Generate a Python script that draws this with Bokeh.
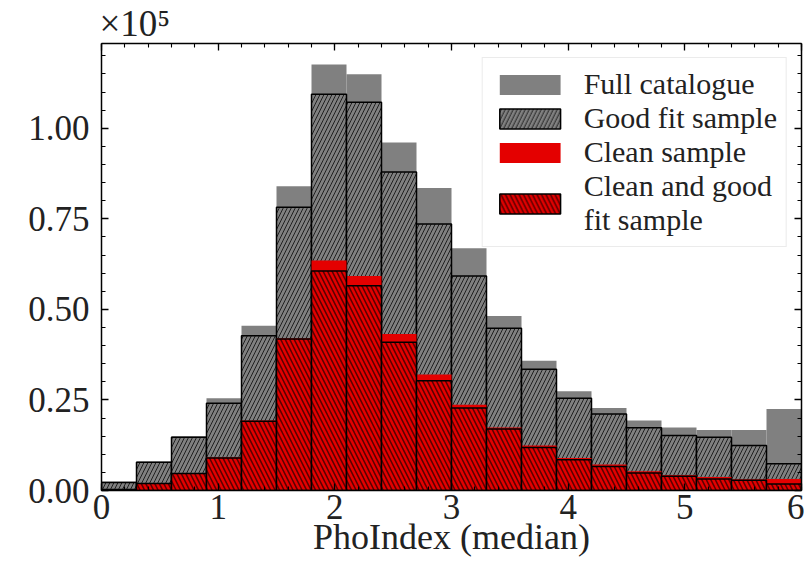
from bokeh.plotting import figure
from bokeh.models import (ColumnDataSource, LinearAxis, Range1d, Legend, LegendItem,
                          Title, CustomJSTickFormatter, FixedTicker)
from bokeh.embed import file_html
from bokeh.resources import INLINE

# ---- data ----
bin_left = [0.0, 0.3, 0.6, 0.9, 1.2, 1.5, 1.8, 2.1, 2.4, 2.7,
            3.0, 3.3, 3.6, 3.9, 4.2, 4.5, 4.8, 5.1, 5.4, 5.7]
bin_right = [0.3, 0.6, 0.9, 1.2, 1.5, 1.8, 2.1, 2.4, 2.7, 3.0,
             3.3, 3.6, 3.9, 4.2, 4.5, 4.8, 5.1, 5.4, 5.7, 6.0]
full_catalogue = [2500, 8000, 15000, 25500, 45500, 84000, 117600, 114900, 96100, 83500,
                  66900, 48200, 35800, 27400, 22800, 19300, 17400, 16700, 16700, 22500]
good_fit = [2200, 7800, 14700, 24100, 42700, 78200, 109400, 107200, 87900, 73600,
            59200, 44800, 33500, 25500, 21100, 17300, 15200, 14700, 12400, 7400]
clean = [400, 2000, 4800, 9200, 19300, 42000, 63500, 59200, 43200, 32000,
         23700, 17400, 12400, 9000, 7200, 5300, 4300, 3700, 3100, 3200]
clean_good = [300, 1900, 4700, 9000, 19100, 41800, 60600, 56500, 40900, 30300,
              22800, 17000, 11900, 8500, 6600, 4800, 3900, 3200, 2800, 1800]
labels = ["Full catalogue", "Good fit sample", "Clean sample", "Clean and good\nfit sample"]
x_ticks = [0, 1, 2, 3, 4, 5, 6]
y_ticks = [0, 25000, 50000, 75000, 100000]
multiplier = "×10⁵"

FONT = "Times"
GRAY = "#808080"
RED = "#e40000"

src = ColumnDataSource(dict(left=bin_left, right=bin_right, full=full_catalogue,
                            good=good_fit, clean=clean, cg=clean_good))

p = figure(width=804, height=571, output_backend="svg", toolbar_location=None,
           x_range=Range1d(0, 6), y_range=Range1d(0, 123400),
           min_border_left=101, min_border_right=3, min_border_top=42, min_border_bottom=81)
p.xaxis.visible = False
p.yaxis.visible = False
p.grid.visible = False
p.outline_line_color = None
p.background_fill_color = "white"

r_full = p.quad(left="left", right="right", bottom=0, top="full", source=src,
                fill_color=GRAY, line_color=None)
r_good = p.quad(left="left", right="right", bottom=0, top="good", source=src,
                fill_color=GRAY, line_color="black", line_width=1.5,
                hatch_pattern="right_diagonal_line", hatch_color="black",
                hatch_scale=8, hatch_weight=1, hatch_alpha=0.75)
r_clean = p.quad(left="left", right="right", bottom=0, top="clean", source=src,
                 fill_color=RED, line_color=None)
r_cg = p.quad(left="left", right="right", bottom=0, top="cg", source=src,
              fill_color=RED, line_color="black", line_width=1.5,
              hatch_pattern="left_diagonal_line", hatch_color="black",
              hatch_scale=9, hatch_weight=1.6, hatch_alpha=0.6)

fmt = CustomJSTickFormatter(code="return (tick/1e5).toFixed(2);")


def style(ax, show_labels):
    ax.axis_line_color = "black"
    ax.axis_line_width = 1.5
    ax.major_tick_in = 7
    ax.major_tick_out = 0
    ax.minor_tick_in = 4
    ax.minor_tick_out = 0
    ax.major_tick_line_color = "black"
    ax.minor_tick_line_color = "black"
    ax.major_tick_line_width = 1.3
    ax.minor_tick_line_width = 1.1
    ax.major_label_text_font = FONT
    ax.major_label_text_color = "#222222"
    ax.axis_label_text_font = FONT
    ax.axis_label_text_color = "#222222"
    ax.axis_label_text_font_style = "normal"
    if not show_labels:
        ax.major_label_text_font_size = "0px"
        ax.major_label_standoff = 0
        ax.major_label_text_alpha = 0


xminor = [i * 0.2 for i in range(31)]
xb = LinearAxis(ticker=FixedTicker(ticks=x_ticks, minor_ticks=xminor),
                axis_label="PhoIndex (median)")
style(xb, True)
xb.major_label_text_font_size = "35px"
xb.axis_label_text_font_size = "36px"
xb.major_label_standoff = 4
xb.axis_label_standoff = -5
p.add_layout(xb, "below")

xt = LinearAxis(ticker=FixedTicker(ticks=x_ticks, minor_ticks=xminor))
style(xt, False)
p.add_layout(xt, "above")

yminor = [i * 5000 for i in range(25)]
yl = LinearAxis(ticker=FixedTicker(ticks=y_ticks, minor_ticks=yminor), formatter=fmt)
style(yl, True)
yl.major_label_text_font_size = "35px"
yl.major_label_standoff = 12
p.add_layout(yl, "left")

yr = LinearAxis(ticker=FixedTicker(ticks=y_ticks, minor_ticks=yminor))
style(yr, False)
p.add_layout(yr, "right")

# multiplier text above the frame
p.add_layout(Title(text=multiplier, align="left", offset=-2, standoff=0,
                   text_font=FONT, text_font_size="37px", text_font_style="normal",
                   text_line_height=0.85, text_color="#222222"), "above")

legend = Legend(items=[LegendItem(label=labels[0], renderers=[r_full]),
                       LegendItem(label=labels[1], renderers=[r_good]),
                       LegendItem(label=labels[2], renderers=[r_clean]),
                       LegendItem(label=labels[3], renderers=[r_cg])],
                location="top_right", margin=14, padding=9, spacing=0,
                glyph_width=76, glyph_height=25, label_standoff=16,
                label_text_font=FONT, label_text_font_size="30px",
                label_text_color="#222222", label_text_line_height=0.92,
                border_line_color="#d8d8d8", border_line_width=1.5,
                background_fill_alpha=0.85)
p.add_layout(legend, "center")

open("out.html", "w").write(file_html(p, INLINE))
